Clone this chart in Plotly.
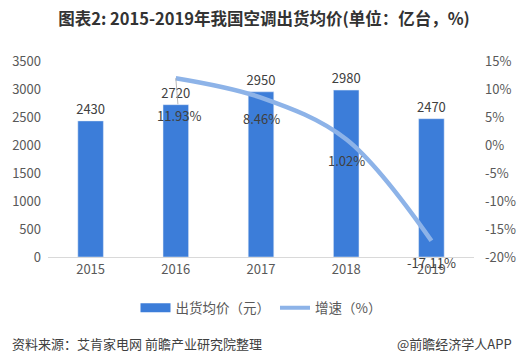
import plotly.graph_objects as go

years = ["2015", "2016", "2017", "2018", "2019"]
price = [2430, 2720, 2950, 2980, 2470]
growth_years = ["2016", "2017", "2018", "2019"]
growth = [11.93, 8.46, 1.02, -17.11]
growth_labels = ["11.93%", "8.46%", "1.02%", "-17.11%"]
left_ticks = [0, 500, 1000, 1500, 2000, 2500, 3000, 3500]
right_ticks = [-20, -15, -10, -5, 0, 5, 10, 15]
right_tick_text = ["-20%", "-15%", "-10%", "-5%", "0%", "5%", "10%", "15%"]

FONT = "Noto Sans CJK SC, Microsoft YaHei, sans-serif"
TXT = "#595959"
BAR = "#3C7DD9"
LINE = "#8DB3E8"

# label offsets (pixels) for the growth labels, style only
label_dx = [3, 0, 0, 0]
label_dy = [37, 21, 21, 22]

fig = go.Figure()
fig.add_trace(go.Bar(
    x=years, y=price, name="出货均价（元）", showlegend=False,
    marker=dict(color=BAR), width=0.3,
    text=[str(v) for v in price], textposition="outside", constraintext="none",
    textfont=dict(size=13, color="#404040"), cliponaxis=False,
))
fig.add_trace(go.Scatter(
    x=growth_years, y=growth, name="增速（%）", yaxis="y2", showlegend=False,
    mode="lines", line=dict(color=LINE, width=4.5, shape="spline", smoothing=1.0),
    cliponaxis=False,
))
# legend entries (no visible data)
fig.add_trace(go.Scatter(x=[years[0]], y=[None], mode="lines", name="出货均价（元）",
                         line=dict(color=BAR, width=9)))
fig.add_trace(go.Scatter(x=[years[0]], y=[None], mode="lines", name="增速（%）",
                         line=dict(color=LINE, width=4)))

for i, (yr, g, lab) in enumerate(zip(growth_years, growth, growth_labels)):
    xi = years.index(yr)
    if i == 0:
        fig.add_annotation(x=xi, y=g, xref="x", yref="y2", text=lab,
                           showarrow=True, arrowhead=0, arrowwidth=0.8, arrowcolor="#A6A6A6",
                           ax=label_dx[i], ay=label_dy[i], standoff=0,
                           font=dict(size=13, color="#404040"))
    else:
        fig.add_annotation(x=xi, y=g, xref="x", yref="y2", text=lab, showarrow=False,
                           xshift=label_dx[i], yshift=-label_dy[i],
                           font=dict(size=13, color="#404040"))

fig.update_layout(
    width=528, height=358,
    margin=dict(l=45, r=53, t=61, b=101),
    paper_bgcolor="white", plot_bgcolor="white",
    font=dict(family=FONT, color=TXT, size=13),
    title=dict(text="<b>图表2: 2015-2019年我国空调出货均价(单位：亿台，%)</b>",
               x=0.5, xanchor="center", y=0.947, yanchor="middle",
               font=dict(size=16.5, color="#333333", family=FONT)),
    xaxis=dict(type="category", categoryorder="array", categoryarray=years,
               range=[-0.5, len(years) - 0.5], showgrid=False, showline=True,
               linecolor="#D9D9D9", ticks="", tickfont=dict(size=13, color=TXT)),
    yaxis=dict(range=[0, 3500], tickvals=left_ticks, showgrid=False, zeroline=False,
               ticks="", tickfont=dict(size=13, color=TXT), ticklabelstandoff=6),
    yaxis2=dict(range=[-20, 15], tickvals=right_ticks, ticktext=right_tick_text,
                overlaying="y", side="right", showgrid=False, zeroline=False, ticks="",
                tickfont=dict(size=13, color=TXT), ticklabelstandoff=10),
    legend=dict(orientation="h", x=0.5, xanchor="center", y=-0.26, yanchor="middle",
                font=dict(size=13.5, color=TXT), traceorder="normal"),
    showlegend=True,
)
fig.add_annotation(text="资料来源：艾肯家电网 前瞻产业研究院整理", xref="paper", yref="paper",
                   x=-0.089, y=-0.44, xanchor="left", yanchor="middle", showarrow=False,
                   font=dict(size=13, color="#404040"))
fig.add_annotation(text="@前瞻经济学人APP", xref="paper", yref="paper",
                   x=1.095, y=-0.44, xanchor="right", yanchor="middle", showarrow=False,
                   font=dict(size=13, color="#404040"))
fig.write_html("out.html", config={"displayModeBar": False},
               post_script="document.body.style.margin='0px';")
